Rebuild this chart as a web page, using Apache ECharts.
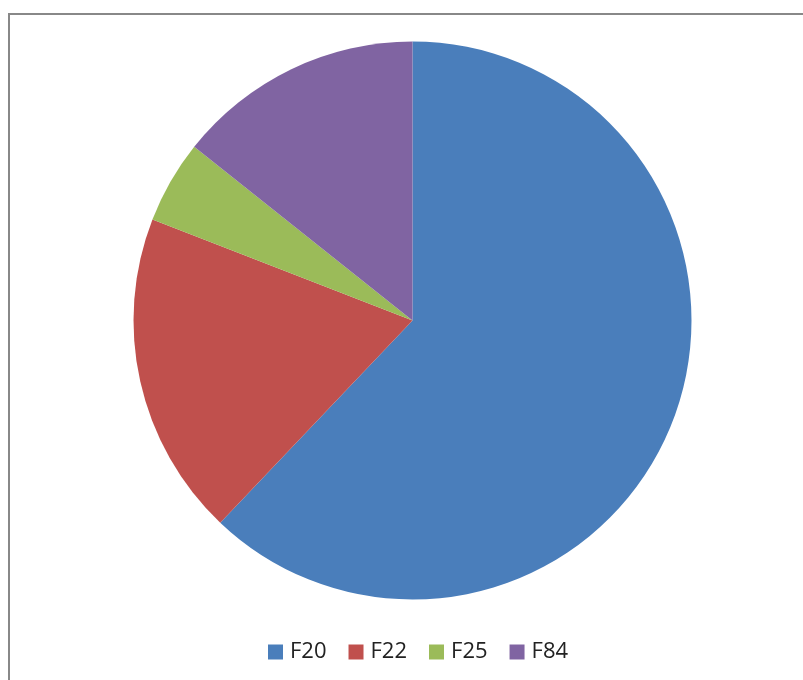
<!DOCTYPE html>
<html>
<head>
<meta charset="utf-8">
<script src="https://cdn.jsdelivr.net/npm/echarts@6/dist/echarts.min.js"></script>
<style>
  html, body { margin: 0; padding: 0; background: #fff; }
  #main { width: 803px; height: 680px; }
</style>
</head>
<body>
<div id="main"></div>
<script>
// pie data
var names = ['F20', 'F22', 'F25', 'F84'];
var values = [62.1, 18.8, 4.8, 14.3];
var colors = ['#4A7EBB', '#C0504D', '#9BBB59', '#8064A2'];

var chart = echarts.init(document.getElementById('main'), null, { renderer: 'canvas' });

var pieData = names.map(function (n, i) {
  return { name: n, value: values[i], itemStyle: { color: colors[i] } };
});

var option = {
  animation: false,
  backgroundColor: '#fff',
  // chart-area frame, only top and left edges are visible
  graphic: [{
    type: 'rect',
    shape: { x: 9, y: 14, width: 1000, height: 1000 },
    style: { fill: 'none', stroke: '#888888', lineWidth: 2 },
    silent: true
  }],
  legend: {
    data: names,
    top: 636,
    left: 263,
    icon: 'rect',
    itemWidth: 15,
    itemHeight: 15,
    itemGap: 22,
    textStyle: { fontSize: 22, color: '#222', fontFamily: 'Open Sans', padding: [0, 0, 0, 2] }
  },
  series: [{
    type: 'pie',
    center: [412.5, 320.5],
    radius: 279,
    startAngle: 90,
    clockwise: true,
    label: { show: false },
    labelLine: { show: false },
    emphasis: { disabled: true },
    data: pieData
  }]
};
chart.setOption(option);
</script>
</body>
</html>
